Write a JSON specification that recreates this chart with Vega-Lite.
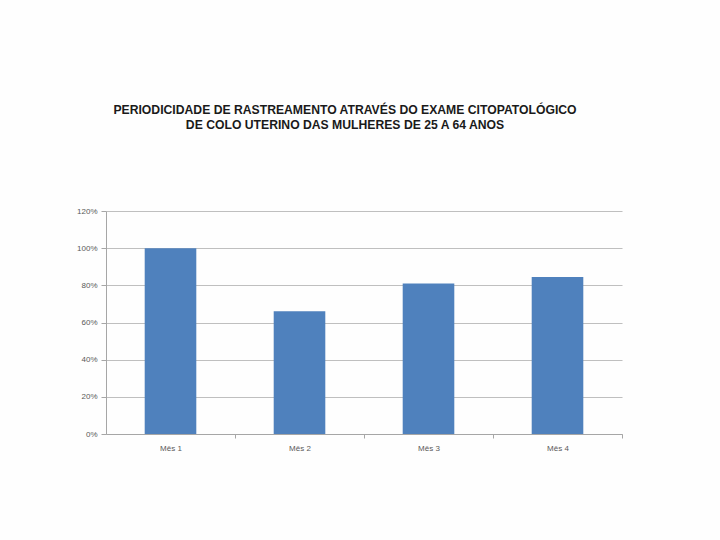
{
  "$schema": "https://vega.github.io/schema/vega-lite/v6.json",
  "autosize": {"type": "none"},
  "width": 516,
  "height": 223,
  "padding": {"left": 106, "top": 211, "right": 98, "bottom": 106},
  "background": "#FEFEFE",
  "title": {
    "text": ["PERIODICIDADE DE RASTREAMENTO ATRAVÉS  DO EXAME CITOPATOLÓGICO", "DE COLO UTERINO  DAS MULHERES DE 25 A 64 ANOS"],
    "font": "Liberation Sans",
    "fontSize": 12.2,
    "fontWeight": "bold",
    "color": "#1a1a1a",
    "lineHeight": 15,
    "anchor": "middle",
    "dx": -19,
    "offset": 76
  },
  "data": {
    "values": [
      {"mes": "Mês 1", "valor": 1.0},
      {"mes": "Mês 2", "valor": 0.66},
      {"mes": "Mês 3", "valor": 0.81},
      {"mes": "Mês 4", "valor": 0.845}
    ]
  },
  "mark": {"type": "bar", "color": "#4F81BD"},
  "encoding": {
    "x": {
      "field": "mes",
      "type": "nominal",
      "sort": null,
      "scale": {"paddingInner": 0.6, "paddingOuter": 0.3},
      "axis": {
        "title": null,
        "labelAngle": 0,
        "labelFont": "Liberation Sans",
        "labelFontSize": 8,
        "labelColor": "#595959",
        "labelPadding": 6,
        "labelOffset": -64.5,
        "domainColor": "#A6A6A6",
        "tickColor": "#A6A6A6",
        "tickOffset": 64.5,
        "tickSize": 4
      }
    },
    "y": {
      "field": "valor",
      "type": "quantitative",
      "scale": {"domain": [0, 1.2], "nice": false},
      "axis": {
        "title": null,
        "format": ".0%",
        "values": [0, 0.2, 0.4, 0.6, 0.8, 1.0, 1.2],
        "labelFont": "Liberation Sans",
        "labelFontSize": 8,
        "labelColor": "#595959",
        "labelPadding": 4,
        "domainColor": "#A6A6A6",
        "tickColor": "#A6A6A6",
        "tickSize": 5,
        "gridColor": "#BFBFBF",
        "gridWidth": 1
      }
    }
  },
  "config": {"view": {"stroke": null}}
}
